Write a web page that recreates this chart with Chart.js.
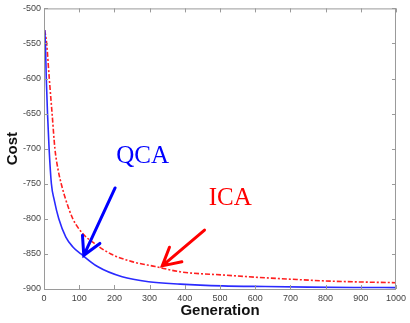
<!DOCTYPE html>
<html>
<head>
<meta charset="utf-8">
<script src="https://cdn.jsdelivr.net/npm/chart.js@4/dist/chart.umd.min.js"></script>
<style>
  html, body { margin: 0; padding: 0; background: #fff; }
  #wrap { width: 410px; height: 323px; }
</style>
</head>
<body>
<div id="wrap"><canvas id="myChart"></canvas></div>
<script>
// values
const genQCA  = [2, 4, 6.5, 10, 14.5, 21, 29, 42, 62, 82, 105, 152, 222, 297, 387, 507, 628, 750, 880, 1000];
const costQCA = [-531, -550, -600, -650, -700, -750, -773, -800, -826, -840, -850, -868, -882.6, -889.7, -893, -895.5, -896.5, -897.3, -897.8, -898];
const genICA  = [2, 7.5, 15, 23, 31, 40, 50, 62, 82, 110, 143, 190, 250, 316, 387, 507, 628, 700, 800, 900, 1000];
const costICA = [-531, -550, -600, -650, -700, -730, -752, -773, -800, -821, -835, -850, -861, -868, -875.5, -880, -884, -886, -888.5, -890, -891];
const xTicks = { min: 0, max: 1000, step: 100 };
const yTicks = { min: -900, max: -500, step: 50 };

// annotations in data units: text + arrow (tail -> tip)
const notes = [
  { text: 'QCA', color: '#0000ff', at: [280, -711], tail: [202, -756], tip: [113, -852] },
  { text: 'ICA', color: '#ff0000', at: [529, -771], tail: [456, -816], tip: [336, -867] }
];

function toPoints(xs, ys) {
  return xs.map((x, i) => ({ x: x, y: ys[i] }));
}

const framePlugin = {
  id: 'frame',
  afterDraw(chart) {
    const ctx = chart.ctx;
    const a = chart.chartArea;
    const sx = chart.scales.x, sy = chart.scales.y;
    ctx.save();
    ctx.strokeStyle = '#9a9a9a';
    ctx.lineWidth = 1;
    ctx.strokeRect(a.left + 0.5, a.top + 0.5, a.right - a.left - 1, a.bottom - a.top);
    ctx.beginPath();
    sx.ticks.forEach(t => {
      const px = Math.round(sx.getPixelForValue(t.value)) + 0.5;
      ctx.moveTo(px, a.bottom); ctx.lineTo(px, a.bottom - 4);
      ctx.moveTo(px, a.top); ctx.lineTo(px, a.top + 4);
    });
    sy.ticks.forEach(t => {
      const py = Math.round(sy.getPixelForValue(t.value)) + 0.5;
      ctx.moveTo(a.left, py); ctx.lineTo(a.left + 4, py);
      ctx.moveTo(a.right, py); ctx.lineTo(a.right - 4, py);
    });
    ctx.stroke();
    ctx.restore();
  }
};

const notesPlugin = {
  id: 'notes',
  afterDraw(chart) {
    const ctx = chart.ctx;
    const sx = chart.scales.x, sy = chart.scales.y;
    const px = p => [sx.getPixelForValue(p[0]), sy.getPixelForValue(p[1])];
    ctx.save();
    for (let n of notes) {
      const c = px(n.at), t0 = px(n.tail), t1 = px(n.tip);
      ctx.fillStyle = n.color;
      ctx.font = '25px "Liberation Serif", "Times New Roman", serif';
      ctx.textAlign = 'center';
      ctx.textBaseline = 'middle';
      ctx.fillText(n.text, c[0], c[1]);

      ctx.strokeStyle = n.color;
      ctx.lineWidth = 3;
      ctx.lineCap = 'round';
      ctx.beginPath();
      ctx.moveTo(t0[0], t0[1]);
      ctx.lineTo(t1[0], t1[1]);
      const ang = Math.atan2(t0[1] - t1[1], t0[0] - t1[0]);
      const len = 20, spread = 0.5;
      ctx.moveTo(t1[0] + len * Math.cos(ang - spread), t1[1] + len * Math.sin(ang - spread));
      ctx.lineTo(t1[0], t1[1]);
      ctx.lineTo(t1[0] + len * Math.cos(ang + spread), t1[1] + len * Math.sin(ang + spread));
      ctx.stroke();
    }
    ctx.restore();
  }
};

const ctx = document.getElementById('myChart').getContext('2d');
const chart = new Chart(ctx, {
  type: 'line',
  data: {
    datasets: [{
      label: 'QCA',
      data: toPoints(genQCA, costQCA),
      borderColor: '#2a2aff',
      borderWidth: 1.6,
      pointRadius: 0,
      cubicInterpolationMode: 'monotone',
      fill: false
    },
    {
      label: 'ICA',
      data: toPoints(genICA, costICA),
      borderColor: '#ff2020',
      borderWidth: 1.6,
      borderDash: [5, 2, 2, 2],
      pointRadius: 0,
      cubicInterpolationMode: 'monotone',
      fill: false
    }]
  },
  options: {
    responsive: true,
    maintainAspectRatio: false,
    animation: false,
    events: [],
    layout: { padding: { top: 7, right: 9, left: 0, bottom: 0 } },
    plugins: { legend: { display: false }, tooltip: { enabled: false } },
    scales: {
      x: {
        type: 'linear',
        min: xTicks.min, max: xTicks.max,
        grid: { display: false, drawTicks: false },
        border: { display: false },
        ticks: {
          stepSize: xTicks.step, padding: 4, maxRotation: 0, autoSkip: false,
          color: '#444', font: { family: 'Arial, "Liberation Sans", sans-serif', size: 9 },
          callback: v => String(v)
        },
        title: {
          display: true, text: 'Generation', color: '#111',
          font: { family: 'Arial, "Liberation Sans", sans-serif', size: 15, weight: 'bold' },
          padding: { top: 0, bottom: 3 }
        },
        afterFit(scale) { scale.height = 34; }
      },
      y: {
        min: yTicks.min, max: yTicks.max,
        grid: { display: false, drawTicks: false },
        border: { display: false },
        ticks: {
          stepSize: yTicks.step, padding: 3,
          color: '#444', font: { family: 'Arial, "Liberation Sans", sans-serif', size: 9 },
          callback: v => String(v)
        },
        title: {
          display: true, text: 'Cost', color: '#111',
          font: { family: 'Arial, "Liberation Sans", sans-serif', size: 15, weight: 'bold' },
          padding: { top: 4, bottom: 0 }
        },
        afterFit(scale) { scale.width = 44; }
      }
    }
  },
  plugins: [framePlugin, notesPlugin]
});
</script>
</body>
</html>
